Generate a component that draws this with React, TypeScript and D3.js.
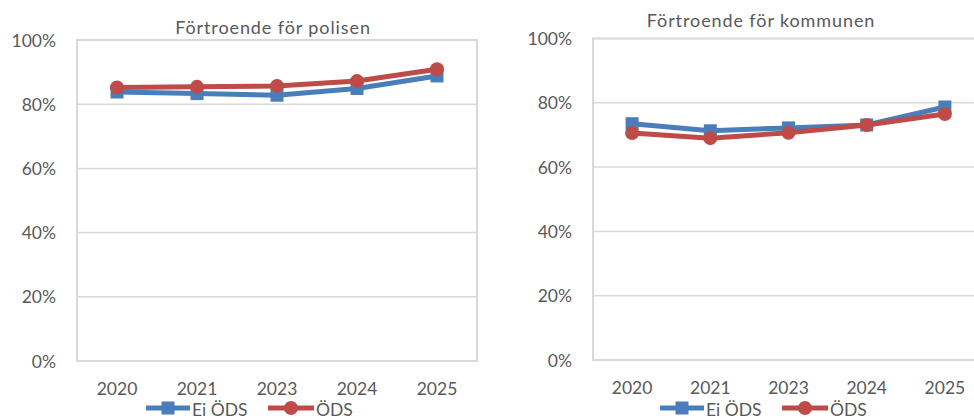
import React from "react";
import * as d3 from "d3";

const years = ["2020", "2021", "2023", "2024", "2025"];
const yTicks = [0, 0.2, 0.4, 0.6, 0.8, 1.0];
const seriesNames = ["Ei ÖDS", "ÖDS"];
const polisenEiODS = [0.838, 0.833, 0.828, 0.849, 0.888];
const polisenODS = [0.852, 0.854, 0.857, 0.872, 0.909];
const kommunenEiODS = [0.735, 0.713, 0.722, 0.731, 0.787];
const kommunenODS = [0.706, 0.69, 0.707, 0.731, 0.765];

const BLUE = "#4A7EBB";
const RED = "#BE4B48";
const TEXT = "#595959";
const GRID = "#D9D9D9";
const FONT = "Lato, 'Open Sans', sans-serif";

type ChartProps = {
  title: string;
  titleX: number;
  titleY: number;
  left: number;
  top: number;
  width: number;
  bottom: number;
  labelRight: number;
  series: number[][];
  legendX: number;
};

function Chart({ title, titleX, titleY, left, top, width, bottom, labelRight, series, legendX }: ChartProps) {
  const x = d3.scaleBand<string>().domain(years).range([left, left + width]);
  const y = d3.scaleLinear().domain([0, 1]).range([bottom, top]);
  const line = d3
    .line<number>()
    .x((_, i) => (x(years[i]) as number) + x.bandwidth() / 2)
    .y((d) => y(d));
  const colors = [BLUE, RED];
  const fmt = d3.format(".0%");
  return (
    <g>
      <text x={titleX} y={titleY} textAnchor="middle" dominantBaseline="central" fontSize={18} letterSpacing={0.9} fill={TEXT} fontFamily={FONT}>
        {title}
      </text>
      {yTicks.map((t) => (
        <g key={t}>
          <line x1={left} x2={left + width} y1={y(t)} y2={y(t)} stroke={GRID} strokeWidth={1.5} />
          <text x={labelRight} y={y(t)} textAnchor="end" dominantBaseline="central" fontSize={17.5} fill={TEXT} fontFamily={FONT}>
            {fmt(t)}
          </text>
        </g>
      ))}
      <rect x={left} y={top} width={width} height={bottom - top} fill="none" stroke={GRID} strokeWidth={2} />
      {years.map((yr) => (
        <text key={yr} x={(x(yr) as number) + x.bandwidth() / 2} y={bottom + 27} textAnchor="middle" dominantBaseline="central" fontSize={17.5} fill={TEXT} fontFamily={FONT}>
          {yr}
        </text>
      ))}
      {series.map((s, si) => (
        <g key={si}>
          <path d={line(s) || ""} fill="none" stroke={colors[si]} strokeWidth={5} strokeLinejoin="round" />
          {s.map((v, i) => {
            const cx = (x(years[i]) as number) + x.bandwidth() / 2;
            const cy = y(v);
            return si === 0 ? (
              <rect key={i} x={cx - 6.5} y={cy - 6.5} width={13} height={13} fill={BLUE} />
            ) : (
              <circle key={i} cx={cx} cy={cy} r={7} fill={RED} />
            );
          })}
        </g>
      ))}
      <g>
        <line x1={legendX} x2={legendX + 44} y1={408} y2={408} stroke={BLUE} strokeWidth={5} />
        <rect x={legendX + 22 - 6.5} y={408 - 6.5} width={13} height={13} fill={BLUE} />
        <text x={legendX + 46} y={409} dominantBaseline="central" fontSize={17.5} fill={TEXT} fontFamily={FONT}>
          {seriesNames[0]}
        </text>
        <line x1={legendX + 122} x2={legendX + 168} y1={408} y2={408} stroke={RED} strokeWidth={5} />
        <circle cx={legendX + 145} cy={408} r={7} fill={RED} />
        <text x={legendX + 170} y={409} dominantBaseline="central" fontSize={17.5} fill={TEXT} fontFamily={FONT}>
          {seriesNames[1]}
        </text>
      </g>
    </g>
  );
}

export default function App() {
  return (
    <svg width={974} height={418} style={{ position: "absolute", left: 0, top: 0, background: "#fff" }}>
      <rect x={0} y={0} width={974} height={418} fill="#fff" />
      <Chart
        title="Förtroende för polisen"
        titleX={273}
        titleY={27}
        left={77}
        top={40}
        width={400}
        bottom={361}
        labelRight={56}
        series={[polisenEiODS, polisenODS]}
        legendX={146}
      />
      <Chart
        title="Förtroende för kommunen"
        titleX={761}
        titleY={20}
        left={593}
        top={38.5}
        width={391}
        bottom={360}
        labelRight={572}
        series={[kommunenEiODS, kommunenODS]}
        legendX={660}
      />
    </svg>
  );
}
